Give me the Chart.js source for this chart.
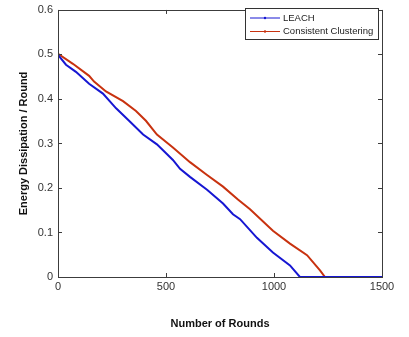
<!DOCTYPE html>
<html>
<head>
<meta charset="utf-8">
<script src="https://cdn.jsdelivr.net/npm/chart.js@4/dist/chart.umd.min.js"></script>
<style>
    html, body { margin: 0; padding: 0; background: #fff; }
    #energy-chart { display: block; }
</style>
</head>
<body>
<canvas id="energy-chart" width="409" height="337"></canvas>
<script>
const leachRounds = [0, 5, 37, 83, 144, 208, 269, 329, 394, 458, 532, 565, 611, 690, 764, 810, 843, 921, 995, 1074, 1120, 1500];
const leachEnergy = [0.5, 0.496, 0.477, 0.461, 0.434, 0.412, 0.379, 0.351, 0.320, 0.298, 0.263, 0.243, 0.225, 0.196, 0.165, 0.141, 0.130, 0.088, 0.055, 0.026, 0, 0];
const clusterRounds = [0, 5, 69, 144, 167, 222, 301, 361, 407, 458, 532, 611, 690, 764, 833, 889, 995, 1074, 1153, 1213, 1236, 1500];
const clusterEnergy = [0.5, 0.5, 0.479, 0.452, 0.439, 0.417, 0.395, 0.373, 0.351, 0.320, 0.291, 0.258, 0.229, 0.203, 0.174, 0.152, 0.104, 0.075, 0.049, 0.015, 0, 0];
const seriesNames = ['LEACH', 'Consistent Clustering'];
const xTicks = [0, 500, 1000, 1500];
const yTicks = [0, 0.1, 0.2, 0.3, 0.4, 0.5, 0.6];

(function () {
    const FONT = '"Liberation Sans", Arial, sans-serif';
    const AXIS_COLOR = '#3c3c3c';
    const colors = ['#1616d2', '#c8320f'];

    function points(xs, ys) {
        return xs.map(function (x, i) { return { x: x, y: ys[i] }; });
    }

    // MATLAB style box: frame plus inward tick marks on all four sides
    const boxPlugin = {
        id: 'matlabBox',
        afterDatasetsDraw: function (chart) {
            const ctx = chart.ctx;
            const a = chart.chartArea;
            const xs = chart.scales.x;
            const ys = chart.scales.y;
            ctx.save();
            ctx.strokeStyle = AXIS_COLOR;
            ctx.lineWidth = 1;
            ctx.strokeRect(Math.round(a.left) + 0.5, Math.round(a.top) + 0.5,
                Math.round(a.right - a.left), Math.round(a.bottom - a.top));
            ctx.beginPath();
            xTicks.forEach(function (v) {
                const px = Math.round(xs.getPixelForValue(v)) + 0.5;
                ctx.moveTo(px, a.bottom); ctx.lineTo(px, a.bottom - 4);
                ctx.moveTo(px, a.top); ctx.lineTo(px, a.top + 4);
            });
            yTicks.forEach(function (v) {
                const py = Math.round(ys.getPixelForValue(v)) + 0.5;
                ctx.moveTo(a.left, py); ctx.lineTo(a.left + 4, py);
                ctx.moveTo(a.right, py); ctx.lineTo(a.right - 4, py);
            });
            ctx.stroke();

            // legend box in the upper right corner
            const lx = 245, ly = 8, lw = 133, lh = 31;
            ctx.fillStyle = '#fff';
            ctx.fillRect(lx, ly, lw, lh);
            ctx.strokeStyle = '#333';
            ctx.strokeRect(lx + 0.5, ly + 0.5, lw, lh);
            ctx.font = '9.5px ' + FONT;
            ctx.textBaseline = 'middle';
            ctx.textAlign = 'left';
            chart.data.datasets.forEach(function (ds, i) {
                const cy = ly + 10 + i * 13.5;
                ctx.strokeStyle = ds.borderColor;
                ctx.lineWidth = 1;
                ctx.beginPath();
                ctx.moveTo(lx + 5, cy); ctx.lineTo(lx + 35, cy);
                ctx.stroke();
                ctx.fillStyle = ds.borderColor;
                ctx.beginPath();
                ctx.arc(lx + 20, cy, 1.2, 0, Math.PI * 2);
                ctx.fill();
                ctx.fillStyle = '#222';
                ctx.fillText(ds.label, lx + 38, cy);
            });
            ctx.restore();
        }
    };

    new Chart(document.getElementById('energy-chart'), {
        type: 'line',
        data: {
            datasets: [
                { label: seriesNames[0], data: points(leachRounds, leachEnergy), borderColor: colors[0], borderWidth: 2, pointRadius: 0, tension: 0 },
                { label: seriesNames[1], data: points(clusterRounds, clusterEnergy), borderColor: colors[1], borderWidth: 2, pointRadius: 0, tension: 0 }
            ]
        },
        options: {
            responsive: false,
            animation: false,
            devicePixelRatio: 1,
            layout: { padding: { left: 0, right: 27, top: 5, bottom: 0 } },
            plugins: { legend: { display: false }, tooltip: { enabled: false } },
            scales: {
                x: {
                    type: 'linear', min: 0, max: 1500,
                    afterBuildTicks: function (scale) { scale.ticks = xTicks.map(function (v) { return { value: v }; }); },
                    afterFit: function (scale) { scale.height = 60; },
                    grid: { display: false, drawTicks: false },
                    border: { display: false },
                    ticks: {
                        color: '#333', padding: 4, maxRotation: 0, font: { family: FONT, size: 11, lineHeight: 1 },
                        callback: function (v) { return String(v); }
                    },
                    title: { display: true, text: 'Number of Rounds', color: '#111', padding: { top: 0, bottom: 6 }, font: { family: FONT, size: 11, weight: 'bold' } }
                },
                y: {
                    min: 0, max: 0.6,
                    afterBuildTicks: function (scale) { scale.ticks = yTicks.map(function (v) { return { value: v }; }); },
                    afterFit: function (scale) { scale.width = 58; },
                    grid: { display: false, drawTicks: false },
                    border: { display: false },
                    ticks: {
                        color: '#333', padding: 5, font: { family: FONT, size: 11, lineHeight: 0.9 },
                        callback: function (v) { return v === 0 ? '0' : v.toFixed(1); }
                    },
                    title: { display: true, text: 'Energy Dissipation / Round', color: '#111', padding: { top: 17, bottom: 0 }, font: { family: FONT, size: 11, weight: 'bold' } }
                }
            }
        },
        plugins: [boxPlugin]
    });
}());
</script>
</body>
</html>
